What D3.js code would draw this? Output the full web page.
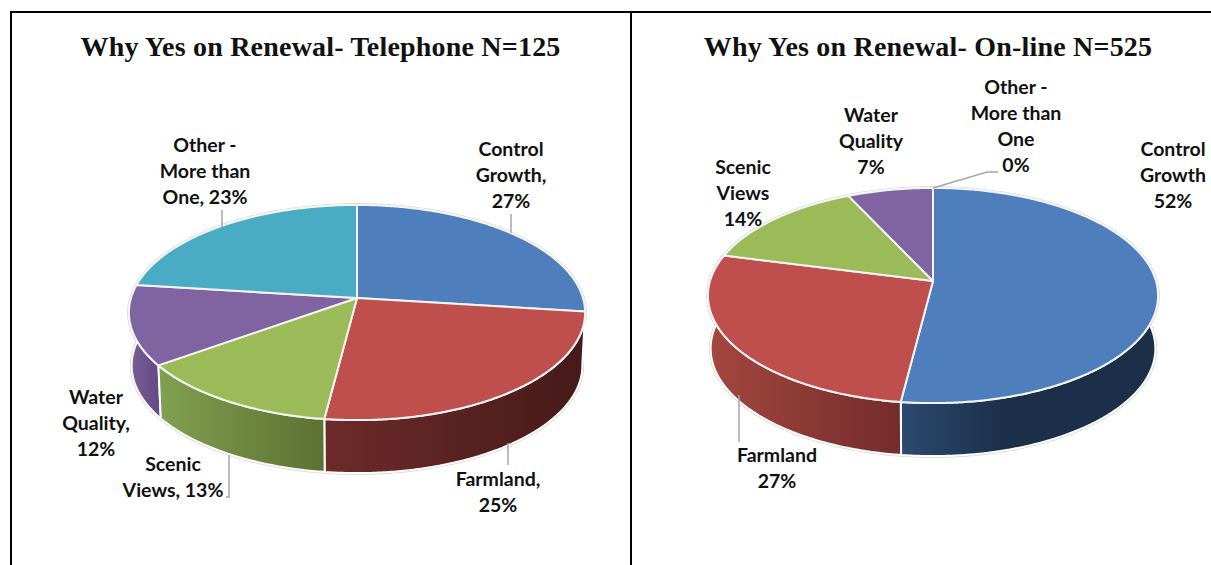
<!DOCTYPE html>
<html><head><meta charset="utf-8">
<script src="https://cdn.jsdelivr.net/npm/d3@7"></script>
<style>html,body{margin:0;padding:0;background:#fff}svg{display:block}</style>
</head><body><svg id="c" width="1211" height="565"></svg>
<script>
const categoriesLeft = ["Control Growth","Farmland","Scenic Views","Water Quality","Other - More than One"];
const valuesLeft = [27,25,13,12,23];
const valuesRight = [52,27,14,7,0];
const titleLeft = "Why Yes on Renewal- Telephone N=125";
const titleRight = "Why Yes on Renewal- On-line N=525";
const topColors = ["#4e7fbc","#bf4f4c","#9bbb59","#8063a1","#4aabc5"];
const wallColorsLeft = [["#2c4a6e","#1b2f49"],["#6d2b2a","#451a19"],["#81a050","#5d7132"],["#7a5f99","#644a86"],["#2f7488","#2f7488"]];
const wallColorsRight = [["#2c4a6e","#1b2f49"],["#a4473f","#732c2b"],["#81a050","#5d7132"],["#7a5f99","#644a86"],["#2f7488","#2f7488"]];
const labelsLeft = [
  {lines:["Control","Growth,","27%"],x:511,y:156},
  {lines:["Farmland,","25%"],x:498,y:486},
  {lines:["Scenic","Views, 13%"],x:173,y:471},
  {lines:["Water","Quality,","12%"],x:96,y:404},
  {lines:["Other -","More than","One, 23%"],x:205,y:152}];
const labelsRight = [
  {lines:["Control","Growth","52%"],x:1173,y:156},
  {lines:["Farmland","27%"],x:777,y:462},
  {lines:["Scenic","Views","14%"],x:743,y:174},
  {lines:["Water","Quality","7%"],x:871,y:122},
  {lines:["Other -","More than","One","0%"],x:1016,y:94}];
const leadersLeft = [[[511,214],[511,233]],[[508,443],[508,465]],[[226,497],[229,497],[229,455]],[[222,210],[222,227]]];
const leadersRight = [[[933,188],[987,172],[998,172]],[[739,395],[739,442]]];

const svg = d3.select("#c");
const defs = svg.append("defs");
const pieGen = d3.pie().sort(null).value(d=>d);
const P = 0.135, RY = 105.6, DEPTH = 53, BASE = 0.988;

function project(cx,cy,rx,a,s,dy){
  const u=Math.sin(a), v=Math.cos(a), w=1+P*v;
  return [cx+s*rx*u/w, cy-RY*v/w+dy];
}
function arcPts(cx,cy,rx,a0,a1,s,dy){
  const n=Math.max(2,Math.ceil((a1-a0)/0.01));
  return d3.range(n+1).map(i=>project(cx,cy,rx,a0+(a1-a0)*i/n,s,dy));
}
const line=d3.line();
function drawPie(id,cx,cy,rx,values,wallColors){
  const g=svg.append("g");
  const slices=pieGen(values).map((d,i)=>({...d,i})).filter(d=>d.value>0);
  const full0=arcPts(cx,cy,rx,0,2*Math.PI,1,0), full1=arcPts(cx,cy,rx,0,2*Math.PI,BASE,DEPTH);
  const halo=g.append("g").attr("fill","#fff").attr("stroke","#d6d6d6").attr("stroke-width",3.5);
  halo.append("path").attr("d",line(full1)+"Z");
  halo.append("path").attr("d",line(full0)+"Z");
  const front=a=>Math.abs(Math.PI-((a%(2*Math.PI))));
  slices.slice().sort((a,b)=>front((b.startAngle+b.endAngle)/2)-front((a.startAngle+a.endAngle)/2)).forEach(d=>{
    const top=arcPts(cx,cy,rx,d.startAngle,d.endAngle,1,0);
    const bot=arcPts(cx,cy,rx,d.startAngle,d.endAngle,BASE,DEPTH);
    const vis=top.filter((p,j)=>Math.cos(d.startAngle+(d.endAngle-d.startAngle)*j/(top.length-1))<-P);
    const xs=d3.extent(vis.length?vis:top,p=>p[0]);
    const gid=`${id}w${d.i}`;
    const gr=defs.append("linearGradient").attr("id",gid).attr("gradientUnits","userSpaceOnUse")
      .attr("x1",xs[0]).attr("x2",xs[1]).attr("y1",0).attr("y2",0);
    gr.append("stop").attr("offset",0).attr("stop-color",wallColors[d.i][0]);
    gr.append("stop").attr("offset",d.i===0?0.4:1).attr("stop-color",wallColors[d.i][1]);
    g.append("path").attr("d",line(top.concat(bot.reverse()))+"Z").attr("fill",`url(#${gid})`)
      .attr("stroke","#fff").attr("stroke-width",2).attr("stroke-linejoin","round");
  });
  slices.forEach(d=>{
    const pts=[[cx,cy]].concat(arcPts(cx,cy,rx,d.startAngle,d.endAngle,1,0));
    g.append("path").attr("d",line(pts)+"Z").attr("fill",topColors[d.i])
      .attr("stroke","#f4f4f4").attr("stroke-width",2).attr("stroke-linejoin","round");
  });
}
function drawText(title,tx,labels,leaders){
  svg.append("text").attr("x",tx).attr("y",56).attr("text-anchor","middle")
    .attr("font-family","Liberation Serif").attr("font-weight","bold").attr("font-size",28)
    .attr("letter-spacing",0.2).attr("fill","#111").text(title);
  leaders.forEach(l=>svg.append("path").attr("d",line(l)).attr("fill","none").attr("stroke","#a6a6a6").attr("stroke-width",1.5));
  labels.forEach(l=>l.lines.forEach((t,i)=>svg.append("text").attr("x",l.x).attr("y",l.y+i*26)
    .attr("text-anchor","middle").attr("font-family","Lato").attr("font-weight","bold").attr("font-size",19.5)
    .attr("fill","#111").text(t)));
}
drawPie("L",357,298,226,valuesLeft,wallColorsLeft);
drawPie("R",933,281,223,valuesRight,wallColorsRight);
drawText(titleLeft,320.5,labelsLeft,leadersLeft);
drawText(titleRight,928,labelsRight,leadersRight);
const border=svg.append("g").attr("stroke","#000").attr("stroke-width",2);
border.append("line").attr("x1",10).attr("x2",1211).attr("y1",12).attr("y2",12);
border.append("line").attr("x1",11).attr("x2",11).attr("y1",12).attr("y2",565);
border.append("line").attr("x1",631).attr("x2",631).attr("y1",12).attr("y2",565);
</script></body></html>
